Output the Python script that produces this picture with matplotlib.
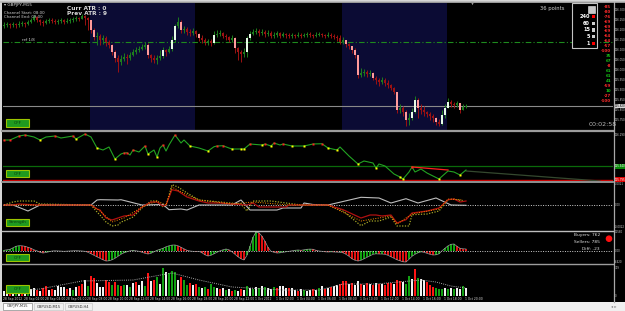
import matplotlib
matplotlib.use("Agg")
import matplotlib.pyplot as plt
from matplotlib.patches import Rectangle, Circle
import numpy as np

# ---------------- data ----------------
symbol = "GBPJPY,M15"
first_open = 126.220
closes = [126.225,126.230,126.225,126.230,126.225,126.230,126.235,126.230,126.240,126.250,
          126.265,126.250,126.240,126.235,126.245,126.250,126.245,126.240,126.245,126.250,
          126.240,126.245,126.250,126.255,126.260,126.255,126.270,126.260,126.250,126.200,
          126.165,126.170,126.150,126.160,126.140,126.125,126.090,126.060,126.040,126.055,
          126.065,126.060,126.075,126.090,126.100,126.105,126.115,126.125,126.075,126.060,
          126.050,126.060,126.070,126.100,126.090,126.105,126.150,126.220,126.240,126.200,
          126.205,126.190,126.185,126.195,126.180,126.160,126.150,126.140,126.145,126.135,
          126.175,126.180,126.185,126.170,126.165,126.150,126.160,126.110,126.090,126.080,
          126.090,126.160,126.180,126.190,126.195,126.185,126.190,126.180,126.185,126.170,
          126.175,126.185,126.170,126.180,126.175,126.170,126.175,126.170,126.175,126.170,
          126.175,126.180,126.175,126.170,126.175,126.180,126.175,126.170,126.175,126.170,
          126.165,126.160,126.140,126.150,126.130,126.120,126.100,126.075,125.975,125.985,
          125.990,125.980,125.985,125.960,125.950,125.940,125.950,125.935,125.925,125.910,
          125.890,125.800,125.810,125.790,125.750,125.760,125.790,125.850,125.810,125.800,
          125.790,125.780,125.770,125.760,125.740,125.730,125.775,125.810,125.840,125.830,
          125.825,125.835,125.800,125.815,125.820]
highs = [126.240,126.240,126.235,126.240,126.235,126.245,126.245,126.240,126.250,126.260,
         126.275,126.270,126.255,126.250,126.255,126.260,126.260,126.255,126.255,126.260,
         126.255,126.260,126.260,126.265,126.270,126.265,126.280,126.275,126.265,126.250,
         126.210,126.190,126.180,126.175,126.170,126.150,126.130,126.100,126.075,126.075,
         126.085,126.080,126.090,126.105,126.115,126.120,126.130,126.140,126.135,126.080,
         126.075,126.075,126.100,126.115,126.105,126.120,126.170,126.230,126.265,126.250,
         126.220,126.215,126.205,126.210,126.200,126.185,126.175,126.160,126.155,126.155,
         126.195,126.200,126.200,126.190,126.180,126.170,126.175,126.165,126.115,126.100,
         126.110,126.170,126.195,126.205,126.210,126.205,126.205,126.200,126.200,126.195,
         126.190,126.195,126.190,126.190,126.185,126.185,126.185,126.180,126.190,126.185,
         126.185,126.190,126.190,126.180,126.190,126.190,126.185,126.180,126.190,126.185,
         126.180,126.175,126.175,126.165,126.150,126.135,126.120,126.110,126.075,126.010,
         126.005,126.000,126.000,125.990,125.970,125.960,125.965,125.960,125.950,125.930,
         125.915,125.890,125.830,125.820,125.800,125.785,125.810,125.870,125.860,125.830,
         125.820,125.795,125.790,125.780,125.765,125.755,125.800,125.830,125.860,125.850,
         125.840,125.845,125.830,125.830,125.830]
lows = [126.210,126.215,126.210,126.215,126.210,126.215,126.220,126.215,126.225,126.235,
        126.245,126.240,126.225,126.220,126.230,126.235,126.235,126.230,126.230,126.235,
        126.230,126.235,126.235,126.240,126.245,126.245,126.255,126.225,126.200,126.185,
        126.150,126.125,126.125,126.130,126.120,126.110,126.075,126.040,125.990,126.025,
        126.045,126.030,126.050,126.070,126.080,126.090,126.100,126.105,126.060,126.040,
        126.035,126.030,126.050,126.060,126.070,126.085,126.095,126.140,126.210,126.185,
        126.185,126.175,126.170,126.175,126.165,126.145,126.135,126.125,126.125,126.120,
        126.130,126.165,126.170,126.160,126.150,126.140,126.140,126.085,126.050,126.040,
        126.065,126.065,126.150,126.175,126.180,126.170,126.175,126.165,126.170,126.160,
        126.160,126.165,126.160,126.165,126.160,126.160,126.160,126.160,126.165,126.160,
        126.165,126.165,126.165,126.160,126.165,126.170,126.165,126.160,126.165,126.160,
        126.155,126.145,126.130,126.130,126.115,126.105,126.085,126.060,125.960,125.965,
        125.970,125.965,125.970,125.950,125.930,125.920,125.930,125.920,125.910,125.900,
        125.880,125.785,125.785,125.770,125.720,125.725,125.750,125.785,125.760,125.780,
        125.770,125.765,125.750,125.740,125.725,125.720,125.725,125.760,125.810,125.815,
        125.810,125.815,125.785,125.800,125.810]
sessions = [(28.7, 63.7), (112.7, 147.7)]
ref_level = 126.138
date_labels = ["28 Sep 2012", "28 Sep 02:00", "28 Sep 04:00", "28 Sep 06:00", "28 Sep 08:00",
               "28 Sep 10:00", "28 Sep 12:00", "28 Sep 14:00", "28 Sep 16:00", "28 Sep 18:00",
               "28 Sep 20:00", "28 Sep 22:00", "1 Oct 2012", "1 Oct 02:00", "1 Oct 04:00",
               "1 Oct 06:00", "1 Oct 08:00", "1 Oct 10:00", "1 Oct 12:00", "1 Oct 14:00",
               "1 Oct 16:00", "1 Oct 18:00", "1 Oct 20:00"]
bars_per_label = 7

# panel 2: smoothed line with swing dots
line_bars = [0,2,5,7,10,12,14,17,19,23,24,27,29,31,33,35,37,39,40,41,42,43,45,47,48,50,51,52,53,
             54,55,57,59,60,62,65,68,70,71,73,75,76,79,80,82,86,87,89,90,92,93,96,100,103,106,
             108,111,112,115,118,120,123,124,125,127,130,132,133,135,136,137,139,141,145,148,
             150,152,154]
line_vals = [126.231,126.231,126.275,126.286,126.264,126.231,126.264,126.275,126.253,126.275,
             126.242,126.297,126.264,126.143,126.121,126.154,126.022,126.077,126.088,126.091,
             126.066,126.121,126.099,126.165,126.077,126.121,126.044,126.143,126.176,126.110,
             126.176,126.286,126.198,126.231,126.165,126.143,126.110,126.157,126.165,126.168,
             126.143,126.132,126.132,126.132,126.187,126.176,126.187,126.165,126.198,126.176,
             126.187,126.165,126.165,126.187,126.190,126.143,126.121,126.154,126.055,125.967,
             126.000,125.978,125.923,125.967,125.945,125.857,125.824,125.802,125.879,125.934,
             125.879,125.912,125.868,125.802,125.890,125.879,125.846,125.901]
red_dot_bars = [0,2,5,7,17,23,27,40,41,43,47,53,57,71,73,82,87,90,93,103,106,136]
yellow_dot_bars = [12,24,31,37,48,51,62,68,76,79,80,86,89,96,100,108,111,118,124,132,133,145,152]
trend_bars = [136, 148]
trend_vals = [125.934, 125.901]
proj_bars = [154, 198.7]
proj_vals = [125.890, 125.780]
level_green = 125.940
level_red = 125.795

# panel 3: strength oscillator
white_bars = [0,3,8,12,29,31,32,38,39,46,53,55,59,61,65,76,79,82,91,93,99,100,103,108,119,125,
              129,134,138,144,149,154]
white_vals = [0,0,-0.0006,0,0,0.0005,0.00053,0.0005,0.00053,0,0.00005,-0.00047,-0.0004,-0.0005,
              0,0,0.0005,-0.0005,-0.0005,-0.0003,-0.0003,0.0002,0.00005,0,0.00077,0.0007,0.0002,
              0.00063,0.0002,0.0007,0,-0.00003]
red_bars = [0,3,5,11,29,31,32,34,36,39,40,43,46,49,51,53,54,56,58,61,65,68,72,76,81,83,85,94,95,
            108,113,119,122,124,126,129,131,134,136,141,145,148,150,152,154]
red_vals = [0,0,0.0001,0,0,-0.0004,-0.0005,-0.0013,-0.0015,-0.0012,-0.0011,-0.0010,-0.0002,
            0.0003,0.0003,-0.0001,0,0.00153,0.0014,0.0008,0.0004,0.0002,0.0002,0.0001,0,0.0002,
            -0.0002,-0.0002,0,0,-0.00047,-0.0013,-0.0010,-0.0010,-0.0011,-0.0010,-0.0018,-0.00147,
            -0.0008,-0.0006,-0.0003,0.00053,0.0006,0.0003,0.0004]
olive_bars = [0,3,5,10,12,29,31,32,34,36,38,39,40,43,46,49,51,53,54,56,58,61,65,72,79,81,83,89,
              94,99,108,113,119,122,125,129,131,135,136,141,145,148,150,153]
olive_vals = [0,0.0003,0.0004,0.0004,0.0001,0,-0.0007,-0.0010,-0.0017,-0.0021,-0.0020,-0.0017,
              -0.0016,-0.0012,-0.0003,0.0004,0.0004,-0.0002,-0.0001,0.00203,0.0018,0.0012,0.0005,
              0.0003,0.0001,-0.0006,0.0004,0.0004,0.0002,0,0,-0.0006,-0.00207,-0.0016,-0.0016,
              -0.0012,-0.0021,-0.0021,-0.00097,-0.0009,-0.0006,0.00053,0.0006,0.0004]
orange_bars = [0,29,32,36,40,46,51,54,56,61,65,76,83,95,108,119,129,131,136,145,148,153]
orange_vals = [0,0,-0.0006,-0.0017,-0.0013,-0.0002,0.0004,0,0.0018,0.0010,0.0005,0.0001,0.0003,
               0,0,-0.0016,-0.0011,-0.0019,-0.0009,-0.0004,0.0006,0.0005]

# panel 4: buyers/sellers histogram
hist_vals = [600,900,1200,2100,3000,3360,3300,3000,2400,1800,
             900,300,-600,-1020,-720,-300,180,300,240,120,
             0,120,240,300,360,300,180,0,-600,-1500,
             -2400,-3300,-4200,-5100,-5820,-5700,-5100,-4200,-3000,-1800,
             -900,-300,300,600,300,0,-600,-1200,-1620,-1200,
             -300,600,1200,1800,2700,3300,3720,3780,3300,2400,
             1500,600,180,0,-180,0,-900,-2100,-2820,-2400,
             -1500,-600,300,900,1380,900,-300,-1800,-3300,-4500,
             -5220,-2400,3000,8400,11580,11100,9000,6000,2400,0,
             -600,-1020,-900,-600,-300,0,300,600,780,600,
             900,1200,1320,1200,600,180,0,-300,-420,-300,
             -420,-600,-600,-900,-1800,-3000,-4500,-5400,-5820,-5400,
             -4500,-3600,-2700,-1800,-1500,-1620,-1620,-1800,-2400,-3300,
             -4200,-5100,-5700,-6300,-6420,-4800,-3000,-1800,-900,-300,
             -600,-1200,-1800,-2220,-2100,-1500,300,1800,3300,4200,
             4380,3000,1800,1500,1380]
buyers, sellers = 762, 785

# panel 5: volumes
volumes = [58,69,46,81,58,69,46,58,69,81,92,69,58,
           92,115,69,81,69,115,104,104,81,92,69,104,115,
           138,191,115,230,207,150,104,104,184,161,127,161,127,115,127,
           127,104,150,161,127,173,115,265,173,184,225,138,
           329,276,265,288,276,184,219,184,127,150,127,138,104,
           92,104,81,138,104,92,81,92,69,81,58,69,58,81,69,
           115,92,81,104,92,115,104,92,81,104,92,115,115,92,92,92,69,58,81,69,58,
           69,81,69,92,115,81,92,104,115,127,138,173,173,138,150,127,173,
           138,127,150,138,127,150,138,138,127,150,150,138,191,173,161,138,230,
           196,311,207,196,184,161,127,104,92,81,81,92,81,92,81,92,81,115,92]
volume_kind = ("wwrwgwrwgwwrw" "rrwrwwwwrwgwr" "rwgrrwwwrrgrgrg" "wgwrwwgrwrgw" "gwgggwrggrwrg"
               "wgrggwrwgwrgwrw" "gwgwgwgwwgrwwwrwwrwgw" "wrwgwrwrwwrrrwrww" "rwrwrwrwrrrwrrwgg"
               "wrgwwrrrgggwgwgwwgw")
vol_ma_bars = [6,12,26,43,56,65,76,93,105,113,124,139,144,149,154]
vol_ma_vals = [70,84,176,187,268,187,107,72,72,141,141,187,164,118,95]

# info texts
curr_atr, prev_atr = 0, 9
points = 36
timer = "00:02:58"
strength_vals = [-85,-80,-76,-69,-69,-69,-64,-64,-57,-100,35,67,-8,61,61,41,-59,10,-27,-100]
tf_labels = ["240", "60", "15", "5", "1"]
tf_alert = [True, False, False, False, True]
tabs = ["GBPJPY,M15", "GBPUSD,M15", "GBPUSD,H4"]

# ---------------- figure ----------------
W, H = 625, 311
fig = plt.figure(figsize=(W / 100, H / 100), dpi=100)
fig.patch.set_facecolor("#d6d6d6")
plt.rcParams["font.family"] = ["DejaVu Sans"]


def px_axes(x0, y0, x1, y1):
    a = fig.add_axes([x0 / W, 1 - y1 / H, (x1 - x0) / W, (y1 - y0) / H])
    a.set_facecolor("none")
    a.set_axis_off()
    return a


# background layer
bg = px_axes(0, 0, W, H)
bg.set_xlim(0, W)
bg.set_ylim(H, 0)
bg.add_patch(Rectangle((0, 0), W, H, color="#d6d6d6", lw=0))
bg.add_patch(Rectangle((2, 2), W - 2, 300, color="black", lw=0))
bg.add_patch(Rectangle((0, 302), W, 9, color="#f0f0f0", lw=0))

n = len(closes)
idx = np.arange(n)
XL = (-1 / 3, 203)

# ---------------- price panel ----------------
ax1 = px_axes(3, 3, 613, 130)
ax1.set_xlim(*XL)
ax1.set_ylim(125.70, 126.335)
for s0, s1 in sessions:
    ax1.axvspan(s0, s1, color="#0b0b34", lw=0, zorder=0)
ax1.axhline(ref_level, color="#1e8a1e", lw=0.8, ls=(0, (5, 2, 1, 2)), zorder=1)
ax1.axhline(closes[-1], color="#8a8a8a", lw=0.8, zorder=1)
opens = [first_open] + closes[:-1]
for i in range(n):
    o, c, h, l = opens[i], closes[i], highs[i], lows[i]
    bull = c >= o
    big = abs(c - o) >= 0.02
    wick = "#1d7d1d" if bull else "#9c1212"
    if bull:
        body = "#e6fbe6" if big else "#1d7d1d"
    else:
        body = "#ff9a9a" if big else "#9c1212"
    ax1.vlines(i, min(l, o, c), max(h, o, c), color=wick, lw=0.7, zorder=2)
    ax1.add_patch(Rectangle((i - 0.32, min(o, c)), 0.64, max(abs(c - o), 0.002),
                            facecolor=body, lw=0, zorder=3))

# ---------------- panel 2 ----------------
ax2 = px_axes(3, 131, 613, 181)
ax2.set_xlim(*XL)
ax2.set_ylim(125.78, 126.33)
ax2.axhline(level_green, color="#0a6a0a", lw=0.9)
ax2.axhline(level_red, color="#c80000", lw=1.0)
ax2.plot(proj_bars, proj_vals, color="#34482e", lw=0.9)
ax2.plot(line_bars, line_vals, color="#22a322", lw=0.8)
ax2.plot(trend_bars, trend_vals, color="#ff2020", lw=0.9)
vmap = dict(zip(line_bars, line_vals))
ax2.plot(red_dot_bars, [vmap[b] for b in red_dot_bars], "s", color="#ff2020", ms=1.6, mec="none")
ax2.plot(yellow_dot_bars, [vmap[b] for b in yellow_dot_bars], "s", color="#ffff00", ms=1.6, mec="none")

# ---------------- panel 3 ----------------
ax3 = px_axes(3, 182, 613, 231)
ax3.set_xlim(*XL)
ax3.set_ylim(-0.0026, 0.0023)
ax3.axhline(0, color="#cfcfcf", lw=0.7, ls=(0, (1, 1.5)))
ax3.plot(olive_bars, olive_vals, color="#a6a626", lw=0.9, ls=(0, (1, 1.2)))
ax3.plot(white_bars, white_vals, color="#bdbdbd", lw=0.8)
ax3.plot(red_bars, red_vals, color="#b01010", lw=0.9)
ax3.plot(orange_bars, orange_vals, color="#ff8c00", lw=0.7, ls=(0, (1, 1.5)))

# ---------------- panel 4 ----------------
ax4 = px_axes(3, 231, 613, 264)
ax4.set_xlim(*XL)
ax4.set_ylim(-7620, 12180)
ax4.axhline(0, color="#cfcfcf", lw=0.7, ls=(0, (1, 1.5)))
hcol = ["#11a311" if (i == 0 or hist_vals[i] >= hist_vals[i - 1]) else "#e01010" for i in range(n)]
ax4.bar(idx, hist_vals, width=0.7, color=hcol, lw=0)
ax4.plot(idx, hist_vals, color="#9a9a9a", lw=0.5)

# ---------------- panel 5 ----------------
ax5 = px_axes(3, 264, 613, 296.3)
ax5.set_xlim(*XL)
ax5.set_ylim(0, 371)
kc = {"w": "#f2f2f2", "r": "#ff1414", "g": "#12a012"}
ax5.bar(idx, volumes, width=0.7, color=[kc[k] for k in volume_kind[:n]], lw=0)
ax5.plot(vol_ma_bars, vol_ma_vals, color="#a8a8a8", lw=0.7, ls=(0, (1, 1.2)))

# ---------------- overlay (pixel coordinates) ----------------
ov = px_axes(0, 0, W, H)
ov.set_xlim(0, W)
ov.set_ylim(H, 0)

# separators and right axis
for y, c, lw in [(130.5, "#9c9c9c", 1.6), (181.6, "#9c9c9c", 1.3), (231.0, "#bdbdbd", 1.0),
                 (264.0, "#9c9c9c", 1.0)]:
    ov.plot([2, 613], [y, y], color=c, lw=lw)
ov.plot([613.5, 613.5], [2, 302], color="#a8a8a8", lw=0.9)
ov.plot([0, W], [1.5, 1.5], color="#b8b8b8", lw=1.2)

AX_FS = 1.9


def right_label(ax, val, txt, fc=None, tc="#cfcfcf"):
    kw = dict(fontsize=AX_FS, color=tc, va="center", ha="left", clip_on=False,
              transform=ax.get_yaxis_transform())
    if fc:
        kw["bbox"] = dict(boxstyle="square,pad=0.15", fc=fc, ec="none")
    ax.text(1.003, val, txt, **kw)


for p in np.arange(125.75, 126.31, 0.05):
    right_label(ax1, p, f"{p:.3f}")
right_label(ax1, closes[-1], f"{closes[-1]:.3f}", fc="#d8d8d8", tc="black")
right_label(ax2, 126.29, "126.290")
right_label(ax2, level_green, f"{level_green:.3f}", fc="#0a8a0a", tc="white")
right_label(ax2, level_red, f"{level_red:.3f}", fc="#e00000", tc="white")
right_label(ax3, 0.0021, "0.0021")
right_label(ax3, 0, "0.00")
right_label(ax3, -0.0022, "-0.0022")
right_label(ax4, max(hist_vals), f"{max(hist_vals)}")
right_label(ax4, 0, "0.00")
right_label(ax4, min(hist_vals), f"{min(hist_vals)}")
right_label(ax5, max(volumes), f"{max(volumes)}")
right_label(ax5, 0, "0")

# top-left texts
ov.text(4, 5, "\u25be " + symbol, fontsize=3.0, color="#e0e0e0", va="center")
ov.text(4, 12.7, "Channel Start: 08:00", fontsize=2.8, color="#cfcfcf", va="center")
ov.text(4, 16.7, "Channel End: 09:00", fontsize=2.8, color="#cfcfcf", va="center")
ov.text(67, 8.5, f"Curr ATR : {curr_atr}", fontsize=4.2, color="#d8d8d8", va="center", weight="bold")
ov.text(67, 13.8, f"Prev ATR : {prev_atr}", fontsize=4.2, color="#d8d8d8", va="center", weight="bold")
ov.text(22, 40.3, "ref 1/8", fontsize=2.8, color="#cfcfcf", va="center")
ov.text(540, 8.3, f"{points} points", fontsize=3.8, color="#d0d0d0", va="center")
ov.text(589, 124, timer, fontsize=4.6, color="#b8b8b8", va="center")
ov.plot([471.5], [2.5], "v", color="#9a9a9a", ms=2.5, mec="none")

# timeframe box
ov.add_patch(Rectangle((571.7, 2.8), 25.6, 45, fc="black", ec="#c4c4c4", lw=0.8))
ov.add_patch(Rectangle((587.8, 6.0), 7, 6.7, fc="#c8c8c8", ec="#eeeeee", lw=0.4))
for k, (lab, alert) in enumerate(zip(tf_labels, tf_alert)):
    y = 16.7 + k * 6.6
    ov.text(590, y, lab, fontsize=3.6, color="white", va="center", ha="right", weight="bold")
    ov.add_patch(Rectangle((591.7, y - 1.6), 3.0, 3.2, fc="#ff0000" if alert else "#d0d0d0", lw=0))

# strength column
for k, v in enumerate(strength_vals):
    ov.text(611, 6.7 + k * 4.95, f"{v}", fontsize=2.9, color="#ff2a2a" if v < 0 else "#16c016",
            va="center", ha="right", weight="bold")

# buttons
for (x0, y0, x1, y1, lab) in [(6, 119, 29, 127.3, "OFF"), (6, 170.3, 29, 177.3, "OFF"),
                              (6, 218.7, 29, 226.3, "Strength"), (6, 254.2, 29, 261.3, "OFF"),
                              (6, 284.7, 29, 293, "OFF")]:
    ov.add_patch(Rectangle((x0, y0), x1 - x0, y1 - y0, fc="#1f9a1f", ec="#9cc400", lw=0.8))
    ov.text((x0 + x1) / 2, (y0 + y1) / 2, lab, fontsize=3.0, color="#0a3a0a", ha="center", va="center")

# buyers / sellers
ov.text(600, 235, f"Buyers: {buyers}", fontsize=3.2, color="#e0e0e0", ha="right", va="center")
ov.text(600, 242, f"Sellers: {sellers}", fontsize=3.2, color="#e0e0e0", ha="right", va="center")
ov.text(600, 249, f"Diff: {buyers - sellers}", fontsize=3.2, color="#e0e0e0", ha="right", va="center")
ov.add_patch(Circle((609, 238.7), 2.6, color="#ff1010"))

# date labels
for k, lab in enumerate(date_labels):
    x = 4 + 3 * k * bars_per_label
    ov.text(x - 1, 298.6, lab, fontsize=2.15, color="#d8d8d8", va="center", ha="left")

# tabs
tx = 3
for k, t in enumerate(tabs):
    w = 29 if k < 2 else 27
    ov.add_patch(Rectangle((tx, 303), w, 7, fc="white" if k == 0 else "#f0f0f0",
                           ec="#8a8a8a" if k == 0 else "#c8c8c8", lw=0.5))
    ov.text(tx + w / 2, 306.5, t, fontsize=2.6, color="#303030", ha="center", va="center")
    tx += w + 2
ov.text(611, 306.5, "\u25c2 \u25b8", fontsize=3, color="#808080", va="center")

fig.savefig("out.png", dpi=100, facecolor=fig.get_facecolor())
